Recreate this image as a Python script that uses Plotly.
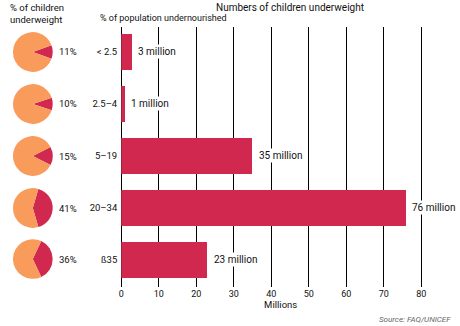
import plotly.graph_objects as go

# Data
categories = ["< 2.5", "2.5\u20134", "5\u201319", "20\u201334", "\u00df35"]
children_millions = [3, 1, 35, 76, 23]
pct_underweight = [11, 10, 15, 41, 36]
x_ticks = [0, 10, 20, 30, 40, 50, 60, 70, 80]

W, H = 460, 326
CRIMSON = "#D0284F"
ORANGE = "#F99B5B"
FONT = "Roboto"
INK = "#111"

def px_x(x):
    return x / W

def px_y(y):
    return 1 - y / H

fig = go.Figure()

rows = list(range(len(categories)))

# Horizontal bars
fig.add_trace(go.Bar(
    x=children_millions, y=rows, orientation="h",
    marker=dict(color=CRIMSON, line=dict(width=0)),
    width=0.69,
    showlegend=False,
    hoverinfo="skip",
))

# Value labels just past the bar ends, on white so gridlines break behind them
for r, v in zip(rows, children_millions):
    fig.add_annotation(
        x=v, y=r, xref="x", yref="y", text=f"{v} million",
        showarrow=False, xanchor="left", yanchor="middle", xshift=4,
        bgcolor="white", borderpad=1,
        font=dict(family=FONT, size=10, color=INK),
    )

# Pies showing share of underweight children
row_center_px = [52, 104, 156, 208, 259]
radius = 20
cx = 30
for p, cy in zip(pct_underweight, row_center_px):
    rot = 90 - p * 360 / 100 / 2
    fig.add_trace(go.Pie(
        values=[p, 100 - p],
        marker=dict(colors=[CRIMSON, ORANGE], line=dict(width=0)),
        sort=False, direction="clockwise", rotation=rot,
        textinfo="none", hoverinfo="skip", showlegend=False,
        domain=dict(x=[px_x(cx - radius), px_x(cx + radius)],
                    y=[px_y(cy + radius), px_y(cy - radius)]),
    ))
    fig.add_annotation(
        x=px_x(54), y=px_y(cy), xref="paper", yref="paper",
        text=f"{p}%", showarrow=False, xanchor="left", yanchor="middle",
        font=dict(family=FONT, size=9.5, color=INK),
    )

fig.update_layout(
    width=W, height=H,
    margin=dict(l=0, r=0, t=0, b=0),
    paper_bgcolor="white", plot_bgcolor="white",
    font=dict(family=FONT, size=9, color=INK),
    bargap=0,
    xaxis=dict(
        domain=[px_x(119), px_x(440)],
        range=[0, 85],
        tickvals=x_ticks,
        showgrid=True, gridcolor="#000", gridwidth=1,
        zeroline=True, zerolinecolor="#000", zerolinewidth=1,
        showline=False, ticks="",
        tickfont=dict(family=FONT, size=9, color=INK),
        title=dict(text="Millions", font=dict(family=FONT, size=9.5, color=INK), standoff=2),
        fixedrange=True,
    ),
    yaxis=dict(
        domain=[px_y(287), px_y(27)],
        range=[4.52, -0.48],
        tickvals=rows, ticktext=categories,
        showgrid=False, zeroline=False, showline=False, ticks="",
        ticklabelstandoff=3,
        tickfont=dict(family=FONT, size=9.5, color=INK),
        fixedrange=True,
    ),
)

# Headers and source
def note(x, y, text, anchor="left", size=9, color=INK, italic=False):
    fig.add_annotation(
        x=px_x(x), y=px_y(y), xref="paper", yref="paper", text=text,
        showarrow=False, xanchor=anchor, yanchor="middle",
        font=dict(family=FONT, size=size, color=color,
                  style="italic" if italic else "normal"),
    )

note(5, 8, "% of children", size=9.5)
note(5, 20, "underweight", size=9.5)
note(96, 18, "% of population undernourished")
note(212, 8, "Numbers of children underweight", size=10)
note(453, 319, "Source: FAQ/UNICEF", anchor="right", size=8, color="#666", italic=True)

fig.write_html("out.html")
